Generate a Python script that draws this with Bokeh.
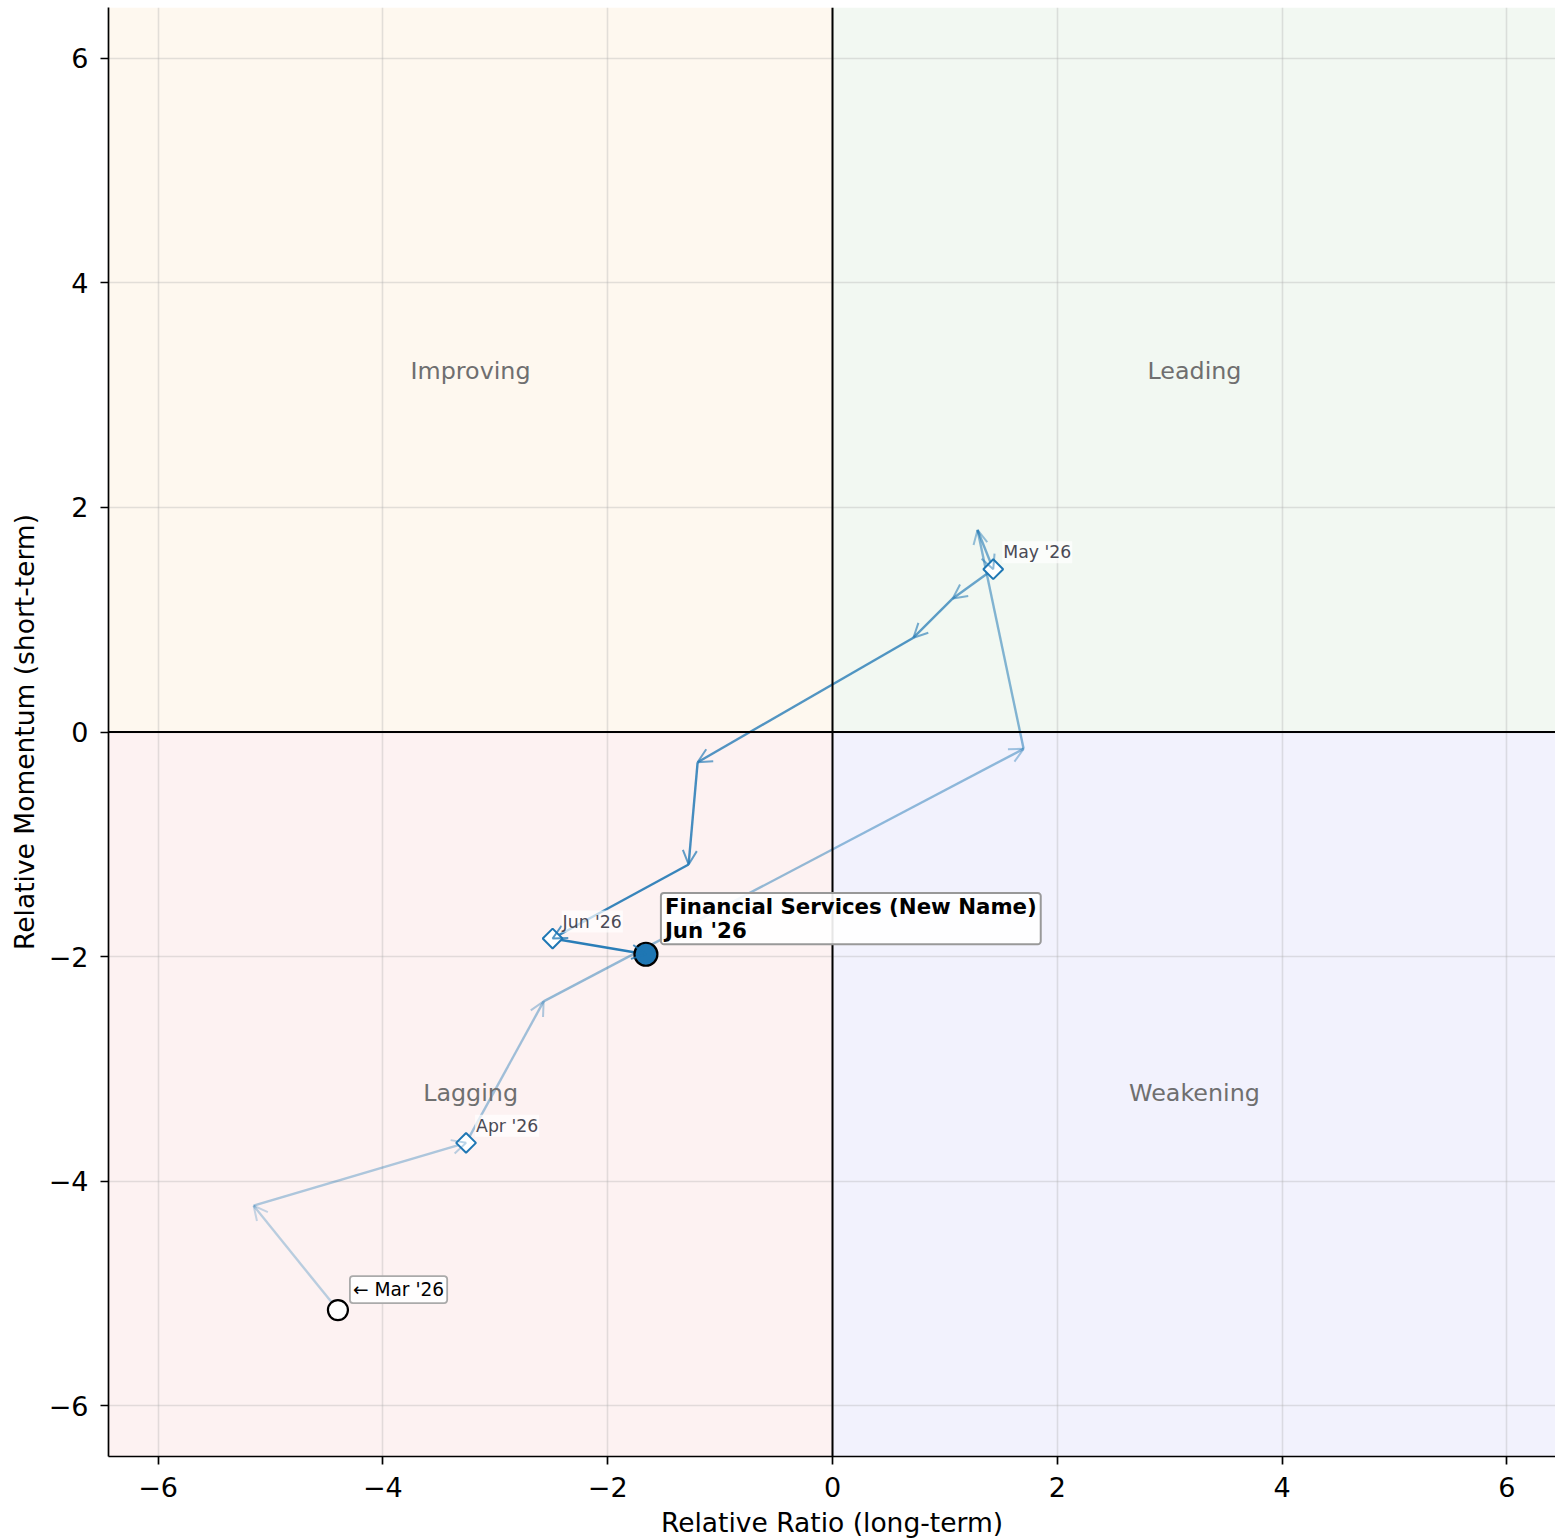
import numpy as np
from bokeh.plotting import figure
from bokeh.models import (Label, Span, BoxAnnotation, Arrow, OpenHead,
                          FixedTicker, ColumnDataSource)
from bokeh.embed import file_html
from bokeh.resources import INLINE

# ---------------- data ----------------
rs_ratio = [-4.40, -5.15, -3.26, -2.57, 1.70, 1.29, 1.43, 1.07, 0.72, -1.20, -1.28, -2.49, -1.66]
rs_momentum = [-5.15, -4.22, -3.66, -2.40, -0.15, 1.80, 1.45, 1.19, 0.84, -0.27, -1.18, -1.84, -1.98]
month_index = [2, 6, 11]
month_labels = ["Apr '26", "May '26", "Jun '26"]
start_label = "← Mar '26"
sector_name = "Financial Services (New Name)"
current_label = "Jun '26"
quadrant_names = ["Improving", "Leading", "Lagging", "Weakening"]
tick_values = [-6, -4, -2, 0, 2, 4, 6]
tick_labels = ["−6", "−4", "−2", "0", "2", "4", "6"]

FONT = "DejaVu Sans"
BLUE = "#1f77b4"

p = figure(width=1555, height=1540,
           x_range=(-6.441, 6.432), y_range=(-6.454, 6.454),
           output_backend="svg", toolbar_location=None,
           min_border_left=108, min_border_right=0,
           min_border_top=7, min_border_bottom=83)
p.outline_line_color = None
p.background_fill_color = "white"

# quadrant backgrounds
p.add_layout(BoxAnnotation(right=0, bottom=0, fill_color="#fef8ef", fill_alpha=1,
                           line_color=None, level="image"))
p.add_layout(BoxAnnotation(left=0, bottom=0, fill_color="#f2f8f2", fill_alpha=1,
                           line_color=None, level="image"))
p.add_layout(BoxAnnotation(right=0, top=0, fill_color="#fdf2f2", fill_alpha=1,
                           line_color=None, level="image"))
p.add_layout(BoxAnnotation(left=0, top=0, fill_color="#f2f2fd", fill_alpha=1,
                           line_color=None, level="image"))

# grid
p.grid.grid_line_color = "#b0b0b0"
p.grid.grid_line_alpha = 0.35
p.grid.grid_line_width = 1.6

# axes
for ax in (p.xaxis, p.yaxis):
    ax.ticker = FixedTicker(ticks=tick_values)
    ax.major_label_overrides = {v: l for v, l in zip(tick_values, tick_labels)}
    ax.minor_tick_line_color = None
    ax.major_tick_in = 0
    ax.major_tick_out = 8
    ax.major_tick_line_width = 1.7
    ax.axis_line_width = 1.7
    ax.axis_line_color = "black"
    ax.major_tick_line_color = "black"
    ax.major_label_text_font = FONT
    ax.major_label_text_font_size = "27px"
    ax.major_label_text_color = "black"
    ax.axis_label_text_font = FONT
    ax.axis_label_text_font_size = "26.5px"
    ax.axis_label_text_font_style = "normal"
    ax.axis_label_text_color = "black"
p.xaxis.axis_label = "Relative Ratio (long-term)"
p.yaxis.axis_label = "Relative Momentum (short-term)"
p.xaxis.major_label_standoff = 12
p.yaxis.major_label_standoff = 12
p.xaxis.axis_label_standoff = 7
p.yaxis.axis_label_standoff = 6

# zero lines
p.add_layout(Span(location=0, dimension="width", line_color="black", line_width=2))
p.add_layout(Span(location=0, dimension="height", line_color="black", line_width=2))

# quadrant labels
for name, qx, qy in zip(quadrant_names, [-3.22, 3.22, -3.22, 3.22], [3.22, 3.22, -3.22, -3.22]):
    p.add_layout(Label(x=qx, y=qy, text=name, text_align="center", text_baseline="middle",
                       text_font=FONT, text_font_size="23.8px", text_color="#6f6f6f"))

# trail segments
n = len(rs_ratio) - 1
alphas = [0.3 + 0.65 * i / (n - 1) for i in range(n)]
seg = ColumnDataSource(dict(x0=rs_ratio[:-1], y0=rs_momentum[:-1],
                            x1=rs_ratio[1:], y1=rs_momentum[1:], a=alphas))
p.segment(x0="x0", y0="y0", x1="x1", y1="y1", source=seg,
          line_color=BLUE, line_alpha="a", line_width=2.4)
for i in range(n):
    p.add_layout(Arrow(x_start=rs_ratio[i], y_start=rs_momentum[i],
                       x_end=rs_ratio[i + 1], y_end=rs_momentum[i + 1],
                       line_alpha=0,
                       end=OpenHead(size=14, line_color=BLUE, line_alpha=alphas[i] * 0.85,
                                    line_width=2)))

# markers
p.scatter(x=[rs_ratio[0]], y=[rs_momentum[0]], size=20, fill_color="white",
          line_color="black", line_width=2.2)
p.scatter(x=[rs_ratio[i] for i in month_index], y=[rs_momentum[i] for i in month_index],
          marker="square", angle=np.pi / 4, size=14, fill_color="white",
          line_color=BLUE, line_width=2)
p.scatter(x=[rs_ratio[-1]], y=[rs_momentum[-1]], size=23, fill_color=BLUE,
          line_color="black", line_width=2.2)

# month labels
for i, t in zip(month_index, month_labels):
    p.add_layout(Label(x=rs_ratio[i], y=rs_momentum[i], text=t, x_offset=9, y_offset=6,
                       text_font=FONT, text_font_size="17.3px", text_color="#4a4a55",
                       text_baseline="bottom", background_fill_color="white",
                       background_fill_alpha=0.7, padding=1))

p.add_layout(Label(x=rs_ratio[0], y=rs_momentum[0], text=start_label, x_offset=12, y_offset=7,
                   text_font=FONT, text_font_size="18.6px", text_color="black",
                   text_baseline="bottom", background_fill_color="white",
                   background_fill_alpha=0.9, border_line_color="#aaaaaa",
                   border_line_width=1.8, border_radius=3, padding=3))

p.add_layout(Label(x=rs_ratio[-1], y=rs_momentum[-1], text=sector_name + "\n" + current_label,
                   x_offset=15, y_offset=10,
                   text_font=FONT, text_font_size="21.3px", text_font_style="bold",
                   text_color="black", text_baseline="bottom", text_line_height=0.97,
                   background_fill_color="white", background_fill_alpha=0.9,
                   border_line_color="#999999", border_line_width=2, border_radius=3,
                   padding=(4, 1)))

open("out.html", "w").write(file_html(p, INLINE))
